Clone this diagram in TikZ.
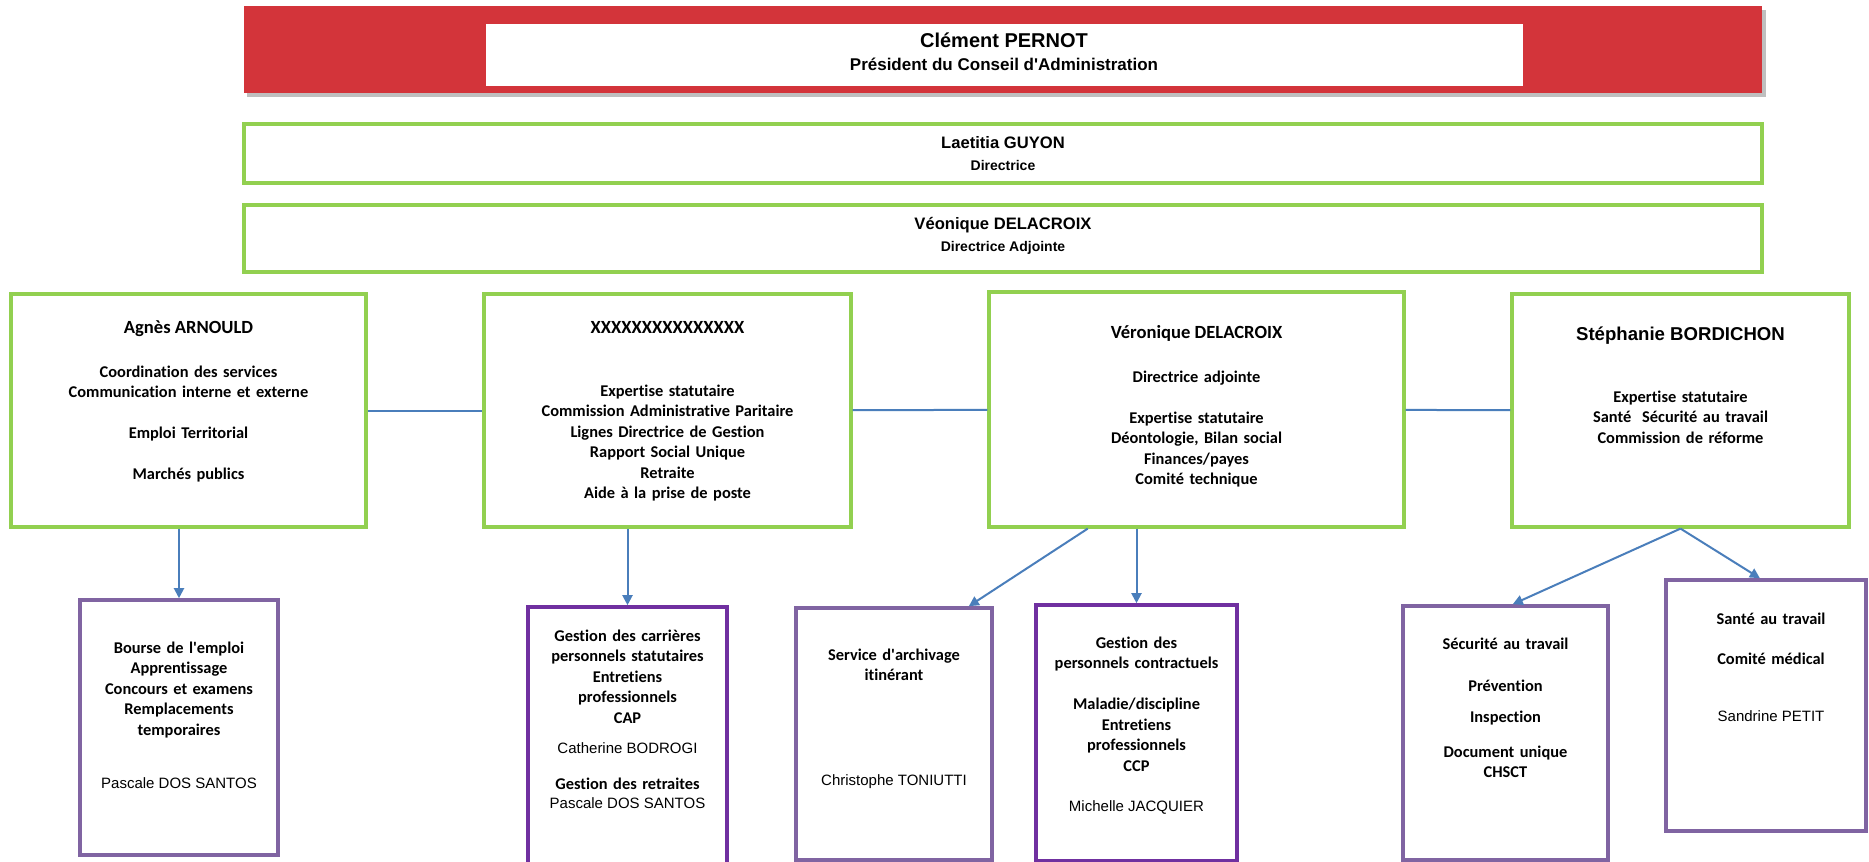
\documentclass[tikz,border=0pt]{standalone}
\usepackage{fontspec}
\setmainfont{Carlito}[Ligatures={TeX,NoCommon}]
\newfontfamily\arial{Liberation Sans}
\usetikzlibrary{arrows.meta,calc,positioning}
\definecolor{bannerred}{HTML}{D3343A}
\definecolor{cdggreen}{HTML}{92D050}
\definecolor{lila}{HTML}{8064A2}
\definecolor{darklila}{HTML}{7030A0}
\definecolor{linkblue}{HTML}{4A7EBB}
\newcommand{\apo}{\textquotesingle}

\begin{document}
\begin{tikzpicture}[x=0.5pt,y=-0.5pt,
    orgbox/.style={inner sep=0pt, line width=1.6pt, fill=white},
    greenbox/.style={orgbox, draw=cdggreen},
    lilabox/.style={orgbox, draw=lila, line width=1.8pt},
    darklilabox/.style={orgbox, draw=darklila, line width=1.8pt},
    link/.style={draw=linkblue, line width=1pt},
    arrowlink/.style={link, -{Triangle[width=5pt,length=5pt]}},
    chief/.style={font=\arial\bfseries\fontsize{8.3}{10}\selectfont, inner sep=0pt, anchor=base},
    chieftitle/.style={font=\arial\bfseries\fontsize{7}{9}\selectfont, inner sep=0pt, anchor=base},
    headname/.style={font=\bfseries\fontsize{9.3}{11}\selectfont, inner sep=0pt, anchor=base},
    duty/.style={font=\bfseries\fontsize{8.2}{10.25}\selectfont, align=center, text width=180pt, inner sep=0pt, anchor=base},
    person/.style={font=\arial\fontsize{7.5}{9}\selectfont, inner sep=0pt, anchor=base}]
  \useasboundingbox (0,0) rectangle (1869,862);

  % top of the chart
  \fill[black!25] (247,10) rectangle (1766,97);
  \node[orgbox, fill=bannerred, minimum width=759pt, minimum height=43.5pt] (banner) at (1003,49.5) {};
  \node[orgbox, minimum width=518.5pt, minimum height=31pt] (bannertext) at (1004.5,55) {};
  \node[chief, font=\arial\bfseries\fontsize{10}{12}\selectfont] (pernot) at (1004,47) {Clément PERNOT};
  \node[chief, font=\arial\bfseries\fontsize{8.5}{10}\selectfont] (president) at (1004,70) {Président du Conseil d\apo Administration};

  \node[greenbox, minimum width=759pt, minimum height=29.5pt] (laetitia) at (1003,153.5) {};
  \node[chief] (guyon) at (1003,148) {Laetitia GUYON};
  \node[chieftitle] (directrice) at (1003,170) {Directrice};

  \node[greenbox, minimum width=759pt, minimum height=33.5pt] (veonique) at (1003,238.5) {};
  \node[chief] (veoniquename) at (1003,229) {Véonique DELACROIX};
  \node[chieftitle] (adjointe) at (1003,251) {Directrice Adjointe};

  % services
  \node[greenbox, minimum width=177.5pt, minimum height=116.5pt] (agnes) at (188.5,410.5) {};
  \node[greenbox, minimum width=183.5pt, minimum height=116.5pt] (xxx) at (667.5,410.5) {};
  \node[greenbox, minimum width=207.5pt, minimum height=117.5pt] (veronique) at (1196.5,409.5) {};
  \node[greenbox, minimum width=168.5pt, minimum height=116.5pt] (stephanie) at (1680.5,410.5) {};

  \node[headname] (agnesname) at (188.5,333) {Agnès ARNOULD};
  \node[duty] (agnesduty) at (188.5,377) {Coordination des services\\Communication interne et externe\\[10.25pt]Emploi Territorial\\[10.25pt]Marchés publics};

  \node[headname] (xxxname) at (667.5,333) {XXXXXXXXXXXXXXX};
  \node[duty] (xxxduty) at (667.5,396) {Expertise statutaire\\Commission Administrative Paritaire\\Lignes Directrice de Gestion\\Rapport Social Unique\\Retraite\\Aide à la prise de poste};

  \node[headname] (veroniquename) at (1196.5,338) {Véronique DELACROIX};
  \node[duty] (veroniqueduty) at (1196.5,382) {Directrice adjointe\\[10.25pt]Expertise statutaire\\Déontologie, Bilan social\\Finances/payes\\Comité technique};

  \node[headname, font=\arial\bfseries\fontsize{9.3}{11}\selectfont] (stephaniename) at (1680.5,340) {Stéphanie BORDICHON};
  \node[duty] (stephanieduty) at (1680.5,402) {Expertise statutaire\\Santé\ \ Sécurité au travail\\Commission de réforme};

  \draw[link] (agnes) -- (xxx);
  \draw[link] (xxx) -- (veronique);
  \draw[link] (veronique) -- (stephanie);

  % teams
  \node[lilabox, minimum width=99pt, minimum height=127.5pt] (bourse) at (179,727.5) {};
  \node[darklilabox, minimum width=99.5pt, minimum height=128.5pt] (carrieres) at (627.5,735.5) {};
  \node[lilabox, minimum width=98pt, minimum height=126pt] (archivage) at (894,734) {};
  \node[darklilabox, minimum width=100.5pt, minimum height=128pt] (contractuels) at (1136.5,733) {};
  \node[lilabox, minimum width=102.5pt, minimum height=127pt] (securite) at (1505.5,733) {};
  \node[lilabox, minimum width=100pt, minimum height=125.5pt] (sante) at (1766,705.5) {};

  \node[duty] (bourseduty) at (179,653) {Bourse de l\apo emploi\\Apprentissage\\Concours et examens\\Remplacements\\temporaires};
  \node[person] (boursename) at (179,788) {Pascale DOS SANTOS};

  \node[duty] (carrieresduty) at (627.5,641) {Gestion des carrières\\personnels statutaires\\Entretiens\\professionnels\\CAP};
  \node[person] (carrieresname) at (627.5,753) {Catherine BODROGI};
  \node[duty] (retraites) at (627.5,789) {Gestion des retraites};
  \node[person] (retraitesname) at (627.5,808) {Pascale DOS SANTOS};

  \node[duty] (archivageduty) at (894,660) {Service d\apo archivage\\itinérant};
  \node[person] (archivagename) at (894,785) {Christophe TONIUTTI};

  \node[duty] (contractuelsduty) at (1136.5,648) {Gestion des\\personnels contractuels\\[10.25pt]Maladie/discipline\\Entretiens\\professionnels\\CCP};
  \node[person] (contractuelsname) at (1136.5,811) {Michelle JACQUIER};

  \node[duty] (securiteduty) at (1505.5,649) {Sécurité au travail\\[10.75pt]Prévention\\[5.25pt]Inspection\\[7.25pt]Document unique\\CHSCT};

  \node[duty] (santeduty) at (1771,624) {Santé au travail\\[9.75pt]Comité médical};
  \node[person] (santename) at (1771,721) {Sandrine PETIT};

  \draw[arrowlink] (agnes.south -| bourse.north) -- (bourse.north);
  \draw[arrowlink] (xxx.south -| carrieres.north) -- (carrieres.north);
  \draw[arrowlink] ($(veronique.south)!0.52!(veronique.south west)$) -- ($(archivage.north)!0.75!(archivage.north east)$);
  \draw[arrowlink] (veronique.south -| contractuels.north) -- (contractuels.north);
  \draw[arrowlink] (stephanie.south) -- ($(securite.north)!0.07!(securite.north east)$);
  \draw[arrowlink] (stephanie.south) -- ($(sante.north)!-0.06!(sante.north east)$);
\end{tikzpicture}
\end{document}
